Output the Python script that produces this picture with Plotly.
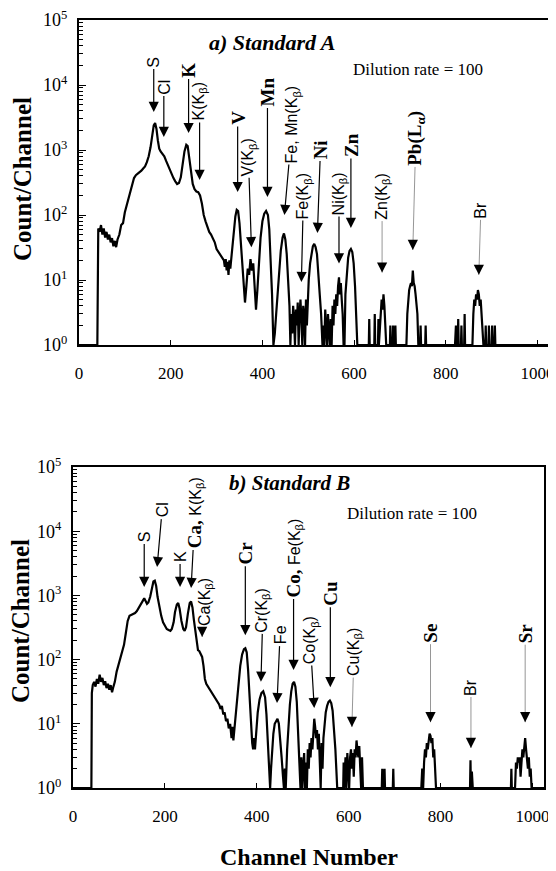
import math
import plotly.graph_objects as go

# ---------------- data: spectrum A (Standard A) ----------------
ch_a = [0, 40, 42, 45, 48, 51, 54, 57, 60, 63, 66, 69, 72, 75, 78, 81, 84, 88, 92, 96,
        100, 104, 108, 112, 116, 120, 124, 128, 132, 136, 140, 144, 148, 152, 156, 160, 163, 166, 169, 172,
        175, 178, 182, 186, 190, 194, 198, 202, 206, 210, 214, 218, 222, 226, 230, 234, 237, 240, 244, 248,
        252, 256, 260, 264, 268, 272, 276, 280, 284, 288, 292, 296, 300, 304, 308, 312, 316, 318, 320, 322,
        324, 326, 328, 330, 332, 335, 338, 341, 344, 347, 350, 353, 356, 359, 362, 365, 368, 371, 374, 377,
        380, 383, 386, 389, 392, 396, 400, 404, 408, 412, 415, 418, 421, 424, 427, 430, 433, 436, 440, 444,
        447, 450, 453, 456, 459, 461, 463, 465, 467, 469, 471, 473, 475, 477, 479, 481, 483, 485, 487, 489,
        491, 493, 495, 497, 499, 501, 504, 507, 510, 513, 516, 519, 522, 525, 528, 531, 533, 535, 537, 539,
        541, 543, 545, 547, 549, 551, 553, 555, 557, 559, 561, 563, 565, 567, 569, 571, 573, 575, 577, 579,
        581, 584, 587, 590, 593, 596, 599, 602, 605, 607, 632, 633, 634, 644, 645, 646, 652, 653, 654, 656,
        658, 660, 662, 664, 666, 668, 670, 678, 679, 680, 684, 685, 686, 689, 690, 691, 714, 716, 718, 720,
        722, 724, 726, 728, 730, 732, 734, 736, 738, 740, 744, 745, 746, 755, 756, 757, 820, 822, 823, 826,
        827, 828, 833, 834, 835, 840, 841, 842, 858, 860, 862, 864, 866, 868, 870, 872, 874, 876, 878, 880,
        882, 886, 887, 888, 893, 894, 895, 900, 901, 902, 906, 907, 908, 1025]
cnt_a = [1, 1, 62, 55, 70, 50, 62, 45, 55, 42, 50, 38, 44, 33, 40, 32, 42, 50, 70, 75,
         110, 140, 170, 230, 300, 370, 410, 430, 450, 480, 520, 560, 650, 800, 1100, 1700, 2400, 2600, 2100, 1400,
         1050, 950, 880, 800, 680, 580, 500, 420, 370, 330, 300, 310, 380, 600, 950, 1200, 1150, 800, 450, 300,
         250, 230, 225, 200, 150, 100, 80, 65, 55, 50, 44, 38, 30, 27, 24, 22, 20, 16, 21, 14,
         19, 12, 20, 15, 22, 30, 55, 95, 120, 115, 75, 35, 15, 7, 4.5, 8, 15, 12, 21, 14,
         18, 8, 3.5, 7, 18, 45, 80, 105, 115, 100, 60, 20, 6, 1, 1.5, 3, 6, 13, 28, 45,
         52, 42, 25, 10, 4, 1, 3, 1.5, 4, 2.5, 1, 3.5, 2, 4.5, 1, 3, 5, 2.5, 1, 4,
         3, 1, 5, 2, 6, 10, 18, 27, 33, 36, 32, 25, 14, 6, 3, 1, 2, 1, 3.5, 2,
         1, 3, 1.5, 1, 2.5, 1, 4, 2, 5, 3, 6, 4, 8, 11, 6, 9, 5, 3, 1, 1,
         6, 14, 22, 28, 30, 27, 18, 8, 3, 1, 1, 2.5, 1, 1, 3, 1, 1, 2.5, 1, 2,
         4, 5, 3.5, 6, 4, 2, 1, 1, 2, 1, 1, 2, 1, 1, 2, 1, 1, 3, 5, 7,
         8, 9, 8, 14, 9, 8, 6, 4, 3, 1, 1, 2, 1, 1, 2, 1, 1, 2, 1, 1,
         2.5, 1, 1, 2, 1, 1, 3, 1, 1, 3, 5, 4, 6, 5, 7, 6, 4, 5, 3, 2,
         1, 1, 2, 1, 1, 2, 1, 1, 2, 1, 1, 2, 1, 1]

# ---------------- data: spectrum B (Standard B) ----------------
ch_b = [0, 40, 41, 43, 46, 49, 52, 55, 58, 61, 64, 67, 70, 73, 76, 79, 82, 85, 88, 91,
        95, 99, 103, 107, 111, 115, 119, 123, 127, 131, 135, 139, 143, 147, 151, 155, 158, 161, 164, 168,
        172, 175, 178, 181, 184, 188, 192, 196, 200, 204, 208, 212, 215, 219, 222, 226, 229, 232, 236, 240,
        243, 246, 250, 254, 257, 260, 263, 266, 269, 272, 275, 278, 281, 284, 287, 290, 294, 298, 302, 306,
        310, 314, 318, 321, 324, 327, 330, 333, 336, 339, 342, 345, 347, 349, 351, 354, 357, 360, 364, 368,
        372, 375, 378, 381, 384, 387, 390, 392, 394, 396, 399, 402, 406, 410, 414, 418, 421, 424, 427, 429,
        431, 433, 436, 439, 442, 445, 448, 451, 454, 457, 459, 461, 463, 466, 469, 472, 475, 478, 481, 484,
        487, 490, 493, 495, 497, 499, 501, 503, 505, 507, 509, 511, 513, 515, 517, 519, 521, 523, 525, 527,
        529, 531, 533, 535, 537, 539, 541, 543, 545, 547, 550, 553, 556, 559, 562, 565, 568, 571, 573, 575,
        588, 589, 590, 593, 595, 597, 599, 601, 603, 605, 607, 609, 611, 613, 615, 617, 619, 621, 623, 625,
        627, 629, 631, 672, 673, 674, 677, 678, 679, 696, 697, 698, 758, 760, 762, 764, 766, 768, 770, 772,
        774, 776, 778, 780, 782, 784, 786, 788, 790, 864, 865, 866, 868, 870, 953, 954, 955, 962, 964, 966,
        968, 970, 972, 974, 976, 978, 980, 982, 984, 986, 988, 990, 992, 994, 996, 998, 1025]
cnt_b = [1, 1, 30, 40, 45, 38, 50, 42, 58, 45, 52, 40, 46, 36, 42, 34, 40, 31, 38, 45,
         65, 85, 105, 130, 170, 260, 400, 480, 500, 510, 530, 570, 640, 720, 800, 900, 820, 740, 780, 950,
         1300, 1650, 1700, 1400, 950, 650, 480, 380, 330, 300, 290, 280, 300, 380, 550, 720, 760, 620, 400, 300,
         280, 320, 520, 760, 800, 650, 420, 280, 170, 140, 135, 125, 110, 80, 50, 42, 38, 33, 30, 27,
         25, 23, 20, 17, 19, 14, 15, 11, 12, 8.5, 10, 6, 9, 5.5, 8, 11, 20, 40, 80, 120,
         145, 150, 130, 70, 25, 9, 5, 4, 6, 4, 8, 15, 24, 30, 32, 26, 14, 5, 2, 1,
         2, 4, 7, 10, 11, 12, 10, 6, 3, 1.5, 1, 2, 1, 4, 10, 20, 32, 42, 45, 38,
         22, 8, 2, 1, 3, 1, 2, 3.5, 1, 2.5, 1, 4, 2, 5, 3, 6, 4, 8, 12, 9,
         6, 8, 4, 7, 3, 1, 5, 2, 6, 10, 15, 19, 22, 23, 21, 16, 9, 4, 2, 1,
         1, 2.5, 1, 3, 1, 3.5, 2, 1, 3, 4, 2, 3.5, 1.5, 4, 3, 5.5, 4, 3, 4.5, 2,
         1, 3, 1, 1, 2, 1, 1, 2, 1, 1, 2, 1, 1, 2, 1, 2.5, 4, 3, 5, 4,
         6, 7, 6.5, 5, 6, 3, 4, 2, 1, 1, 2.7, 1, 1.8, 1, 1, 2, 1, 1, 2.5, 2,
         3, 2.5, 3, 1.5, 3, 4, 3, 5, 6, 4, 3, 2, 3, 1.5, 2, 1, 1]

x_ticks = [0, 200, 400, 600, 800, 1000]
y_ticks = [1, 10, 100, 1000, 10000, 100000]
y_tick_text = ["10<sup>0</sup>", "10<sup>1</sup>", "10<sup>2</sup>",
               "10<sup>3</sup>", "10<sup>4</sup>", "10<sup>5</sup>"]
y_minor = [m * 10 ** d for d in range(5) for m in range(2, 10)]

# peak labels: text, channel of arrow tip, count at arrow tip
lab_a = ["S", "Cl", "K", "K(K<sub>β</sub>)", "V", "V(K<sub>β</sub>)", "Mn", "Fe, Mn(K<sub>β</sub>)",
         "Fe(K<sub>β</sub>)", "Ni", "Ni(K<sub>β</sub>)", "Zn", "Zn(K<sub>β</sub>)", "Pb(L<sub>α</sub>)", "Br"]
lab_ch_a = [163, 185, 239, 263, 346, 376, 411, 448, 485, 520, 567, 593, 661, 728, 872]
lab_cnt_a = [3850, 1585, 1820, 347, 225, 32, 189, 100, 9.3, 53, 18, 63, 13, 29, 12]

lab_b = ["S", "Cl", "K", "Ca, K(K<sub>β</sub>)", "Ca(K<sub>β</sub>)", "Cr", "Cr(K<sub>β</sub>)", "Fe",
         "Co, Fe(K<sub>β</sub>)", "Co(K<sub>β</sub>)", "Cu", "Cu(K<sub>β</sub>)", "Se", "Br", "Sr"]
lab_ch_b = [155, 183, 233, 257, 281, 375, 409, 444, 480, 525, 560, 607, 778, 866, 984]
lab_cnt_b = [1350, 2760, 1350, 1300, 225, 240, 45, 21, 69, 17.6, 37, 8.9, 10.6, 4.2, 10.6]

# ---------------- layout / style settings ----------------
# (dx px, dy px of text centre from arrow tip, font kind, line kind)
sty_a = [(0, -50, "s", "k"), (0, -50, "s", "k"), (0, -63, "b", "k"), (0, -78, "s", "k"),
         (0, -74, "b", "k"), (-3, -90, "s", "k"), (0, -105, "b", "k"), (8, -91, "s", "k"),
         (2, -86, "s", "k"), (3, -83, "b", "k"), (0, -70, "s", "k"), (0, -83, "b", "k"),
         (0, -76, "s", "d"), (3, -112, "b", "d"), (2, -65, "s", "d")]
sty_b = [(0, -50, "s", "k"), (5, -57, "s", "k"), (0, -30, "s", "k"), (4, -75, "m", "k"),
         (4, -35, "s", "d"), (0, -82, "b", "k"), (2, -72, "s", "k"), (3, -68, "s", "k"),
         (0, -112, "m", "k"), (-4, -68, "s", "k"), (0, -94, "b", "k"), (2, -75, "s", "d"),
         (0, -89, "b", "d"), (0, -61, "s", "d"), (0, -89, "b", "d")]

SERIF = "Liberation Serif"
SANS = "Liberation Sans"
OFF = 8                      # page body margin: figure starts 8 px in from the window corner
W, H = 556 - OFF, 871 - OFF  # figure size so it fits the window
SANS_SIZE = 16
BOLD_SIZE = 19


def px(x):   # window x -> paper fraction
    return (x - OFF) / W


def py(y):   # window y -> paper fraction
    return 1 - (y - OFF) / H


fig = go.Figure()
fig.add_trace(go.Scatter(x=ch_a, y=cnt_a, mode="lines", xaxis="x", yaxis="y",
                         line=dict(color="black", width=2.2), showlegend=False, hoverinfo="skip"))
fig.add_trace(go.Scatter(x=ch_b, y=cnt_b, mode="lines", xaxis="x2", yaxis="y2",
                         line=dict(color="black", width=2.2), showlegend=False, hoverinfo="skip"))

xcommon = dict(range=[0, 1025], tickvals=x_ticks, ticks="inside", ticklen=5, tickwidth=1,
               tickcolor="black", showline=True, linecolor="black", linewidth=2, mirror=True,
               showgrid=False, zeroline=False, ticklabelstandoff=12, automargin=False,
               ticklabeloverflow="allow",
               tickfont=dict(family=SERIF, size=17, color="black"))
ycommon = dict(type="log", range=[0, 5], tickvals=y_ticks, ticktext=y_tick_text,
               ticks="inside", ticklen=7, tickwidth=1, tickcolor="black",
               minor=dict(tickvals=y_minor, ticks="inside", ticklen=4, tickcolor="black", tickwidth=1),
               showline=True, linecolor="black", linewidth=2, mirror=True, automargin=False,
               showgrid=False, zeroline=False, ticklabelstandoff=6, ticklabeloverflow="allow",
               tickfont=dict(family=SERIF, size=18, color="black"))

fig.update_layout(
    width=W, height=H, margin=dict(l=0, r=0, t=0, b=0, pad=0, autoexpand=False),
    paper_bgcolor="white", plot_bgcolor="white", showlegend=False,
    xaxis=dict(domain=[px(79), px(549)], anchor="y", **xcommon),
    yaxis=dict(domain=[py(345), py(20)], anchor="x", **ycommon),
    xaxis2=dict(domain=[px(73), px(544)], anchor="y2", **xcommon),
    yaxis2=dict(domain=[py(788), py(467)], anchor="x2", **ycommon),
)

ann = []


def fmt(text, kind):
    if kind == "b":
        return "<b>" + text + "</b>", dict(family=SERIF, size=BOLD_SIZE, color="black")
    if kind == "m":
        head, tail = text.split(", ", 1)
        t = ('<span style="font-family:%s;font-size:%dpx"><b>%s,</b></span> %s'
             % (SERIF, BOLD_SIZE, head, tail))
        return t, dict(family=SANS, size=SANS_SIZE, color="black")
    return text, dict(family=SANS, size=SANS_SIZE, color="black")


def add_labels(labs, chs, cnts, stys, xr, yr):
    for t, c, v, (dx, dy, fk, lk) in zip(labs, chs, cnts, stys):
        txt, font = fmt(t, fk)
        base = dict(x=c, y=math.log10(v), xref=xr, yref=yr, textangle=-90, showarrow=True,
                    standoff=0, startstandoff=1, borderpad=0, xanchor="center", yanchor="middle")
        if lk == "k":
            ann.append(dict(base, text=txt, font=font, arrowhead=2, arrowsize=1.7,
                            arrowwidth=1.2, arrowcolor="black", ax=dx, ay=dy))
        else:
            # faint leader line, then a black arrow head on top of it
            ann.append(dict(base, text=txt, font=font, arrowhead=0, arrowwidth=0.9,
                            arrowcolor="#8a8a8a", ax=dx, ay=dy))
            ann.append(dict(base, text="", arrowhead=2, arrowsize=1.7, arrowwidth=1.2,
                            arrowcolor="black", ax=0, ay=-11))


add_labels(lab_a, lab_ch_a, lab_cnt_a, sty_a, "x", "y")
add_labels(lab_b, lab_ch_b, lab_cnt_b, sty_b, "x2", "y2")


def paper_text(text, x, y, font, angle=0):
    ann.append(dict(text=text, x=px(x), y=py(y), xref="paper", yref="paper",
                    showarrow=False, font=font, textangle=angle, xanchor="center", yanchor="middle"))


paper_text("<b><i>a) Standard A</i></b>", 272, 42, dict(family=SERIF, size=22, color="black"))
paper_text("Dilution rate = 100", 418, 70, dict(family=SERIF, size=17, color="black"))
paper_text("<b><i>b) Standard B</i></b>", 289, 483, dict(family=SERIF, size=21, color="black"))
paper_text("Dilution rate = 100", 412, 513, dict(family=SERIF, size=17, color="black"))
paper_text("<b>Count/Channel</b>", 22, 179, dict(family=SERIF, size=25, color="black"), -90)
paper_text("<b>Count/Channel</b>", 20, 621, dict(family=SERIF, size=25, color="black"), -90)
paper_text("<b>Channel Number</b>", 309, 857, dict(family=SERIF, size=24, color="black"))

fig.update_layout(annotations=ann)
fig.write_html("out.html")
